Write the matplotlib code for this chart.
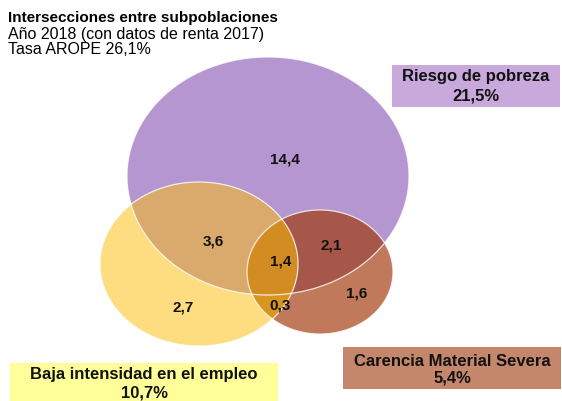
import numpy as np
import matplotlib
matplotlib.use("Agg")
import matplotlib.pyplot as plt
from matplotlib.patches import Polygon, Rectangle

plt.rcParams['font.family'] = ['Liberation Sans', 'DejaVu Sans']

# data
title = "Intersecciones entre subpoblaciones"
subtitle = ["Año 2018 (con datos de renta 2017)", "Tasa AROPE 26,1%"]
set_names = ["Riesgo de pobreza", "Baja intensidad en el empleo", "Carencia Material Severa"]
set_totals = ["21,5%", "10,7%", "5,4%"]
region_keys = ["P", "PY", "Y", "PYB", "YB", "PB", "B"]
region_vals = ["14,4", "3,6", "2,7", "1,4", "0,3", "2,1", "1,6"]

# geometry in pixel coords (cx, cy, w, h)
ell = {"P": (268, 176, 282, 238), "Y": (199, 264, 198, 164), "B": (320, 272, 146, 124)}
region_col = {"P": "#B596D0", "Y": "#FEDD80", "B": "#C0795A", "PY": "#D9AA6B",
              "PB": "#A6574A", "YB": "#D8961E", "PYB": "#D38C22"}
label_pos = {"P": (285, 160), "PY": (213, 241), "Y": (183, 308), "PYB": (281, 262),
             "YB": (280, 305), "PB": (331, 245), "B": (357, 294)}


def ellipse_pts(cx, cy, w, h, n=360):
    t = np.linspace(0, 2 * np.pi, n, endpoint=False)
    return np.column_stack([cx + w / 2 * np.cos(t), cy + h / 2 * np.sin(t)])


def clip_convex(subject, clip):
    # Sutherland-Hodgman, clip polygon must be convex
    out = list(subject)
    cp = list(clip)
    area = sum(cp[i][0] * cp[i - 1][1] - cp[i - 1][0] * cp[i][1] for i in range(len(cp)))
    s = 1 if area < 0 else -1

    def inside(p, a, b):
        return s * ((b[0] - a[0]) * (p[1] - a[1]) - (b[1] - a[1]) * (p[0] - a[0])) >= 0

    def inter(p, q, a, b):
        x1, y1 = p; x2, y2 = q; x3, y3 = a; x4, y4 = b
        d = (x1 - x2) * (y3 - y4) - (y1 - y2) * (x3 - x4)
        tt = ((x1 - x3) * (y3 - y4) - (y1 - y3) * (x3 - x4)) / d
        return (x1 + tt * (x2 - x1), y1 + tt * (y2 - y1))

    for i in range(len(cp)):
        a, b = cp[i - 1], cp[i]
        inp = out
        out = []
        if not inp:
            break
        prev = inp[-1]
        for cur in inp:
            if inside(cur, a, b):
                if not inside(prev, a, b):
                    out.append(inter(prev, cur, a, b))
                out.append(cur)
            elif inside(prev, a, b):
                out.append(inter(prev, cur, a, b))
            prev = cur
    return np.array(out)


fig = plt.figure(figsize=(5.62, 4.01), dpi=100)
ax = fig.add_axes([0, 0, 1, 1])
ax.set_xlim(0, 562)
ax.set_ylim(401, 0)
ax.axis('off')

P = ellipse_pts(*ell["P"])
Y = ellipse_pts(*ell["Y"])
B = ellipse_pts(*ell["B"])
YB = clip_convex(B, Y)
shapes = {"P": P, "Y": Y, "B": B, "PY": clip_convex(Y, P), "PB": clip_convex(B, P),
          "YB": YB, "PYB": clip_convex(YB, P)}

for k in ["P", "Y", "B", "PY", "PB", "YB", "PYB"]:
    ax.add_patch(Polygon(shapes[k], closed=True, facecolor=region_col[k], edgecolor='none'))
for k in ["P", "Y", "B"]:
    ax.add_patch(Polygon(shapes[k], closed=True, facecolor='none', edgecolor='white', lw=0.9, alpha=0.8))

for k, v in zip(region_keys, region_vals):
    x, y = label_pos[k]
    ax.text(x, y, v, ha='center', va='center', fontsize=11, fontweight='bold', color='#111111')

# title
ax.text(8, 18, title, ha='left', va='center', fontsize=11, fontweight='bold')
ax.text(8, 34, subtitle[0], ha='left', va='center', fontsize=11.5)
ax.text(8, 50, subtitle[1], ha='left', va='center', fontsize=11.5)

# legend boxes (x0, y0, x1, y1) and line centres
boxes = [(392, 65, 560, 107), (10, 363, 278, 401), (343, 347, 561, 389)]
line_y = [(77, 96), (375, 393), (361, 378)]
box_cols = ["#C9A9DC", "#FFFF99", "#C5876C"]
for name, tot, (x0, y0, x1, y1), (l1, l2), c in zip(set_names, set_totals, boxes, line_y, box_cols):
    ax.add_patch(Rectangle((x0, y0), x1 - x0, y1 - y0, facecolor=c, edgecolor='none'))
    cx = (x0 + x1) / 2
    ax.text(cx, l1, name, ha='center', va='center', fontsize=12, fontweight='bold', color='#111111')
    ax.text(cx, l2, tot, ha='center', va='center', fontsize=12, fontweight='bold', color='#111111')

fig.savefig("out.png", dpi=100)
